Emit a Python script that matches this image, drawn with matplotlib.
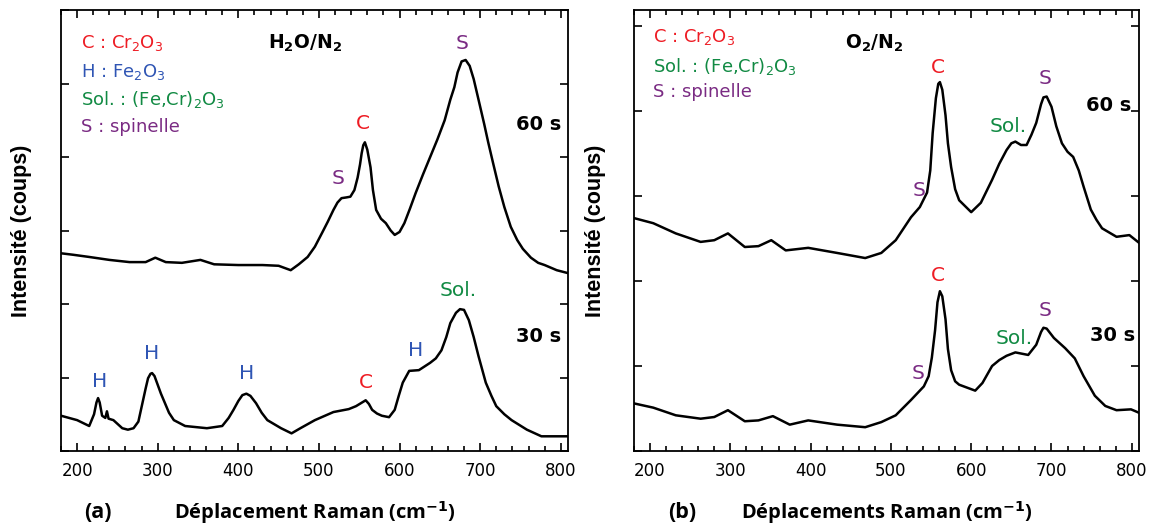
import numpy as np
import matplotlib
matplotlib.use('Agg')
from matplotlib import pyplot as plt
from matplotlib.ticker import MultipleLocator

# spectres (unites arbitraires)
a_x60 = [180, 195, 215, 240, 265, 285, 297, 310, 330, 353, 370, 400, 430, 450, 465, 475, 486, 495, 504,
         511, 518, 523, 528, 534, 539, 544, 548, 551, 553, 555, 557, 560, 564, 567, 571, 577, 583, 589,
         594, 600, 606, 613, 620, 629, 638, 647, 656, 663, 668, 672, 677, 682, 687, 692, 698, 705, 710,
         716, 723, 730, 738, 746, 753, 763, 772, 780, 795, 809]
a_y60 = [2.69, 2.67, 2.64, 2.60, 2.57, 2.57, 2.63, 2.57, 2.56, 2.60, 2.54, 2.53, 2.53, 2.52, 2.46, 2.54,
         2.64, 2.78, 2.97, 3.12, 3.28, 3.38, 3.44, 3.45, 3.46, 3.55, 3.72, 3.90, 4.05, 4.16, 4.20, 4.10,
         3.86, 3.55, 3.28, 3.16, 3.10, 3.00, 2.94, 2.98, 3.10, 3.30, 3.51, 3.76, 4.00, 4.24, 4.50, 4.78,
         4.95, 5.15, 5.30, 5.32, 5.24, 5.06, 4.78, 4.45, 4.20, 3.92, 3.60, 3.32, 3.05, 2.87, 2.75, 2.63,
         2.56, 2.53, 2.46, 2.42]

a_x30 = [180, 200, 215, 221, 224, 226, 228, 231, 235, 237, 239, 245, 256, 263, 270, 276, 281, 285, 288,
         291, 293, 296, 299, 304, 309, 314, 320, 334, 361, 380, 388, 394, 400, 405, 410, 415, 422, 429,
         436, 453, 466, 477, 495, 518, 537, 546, 552, 558, 562, 566, 572, 578, 587, 594, 599, 604, 612,
         624, 638, 645, 652, 658, 663, 670, 675, 680, 686, 692, 698, 707, 714, 720, 730, 739, 758, 776,
         809]
a_y30 = [0.48, 0.42, 0.34, 0.50, 0.66, 0.72, 0.66, 0.48, 0.45, 0.54, 0.44, 0.42, 0.31, 0.29, 0.31, 0.40,
         0.65, 0.85, 0.99, 1.05, 1.06, 1.02, 0.93, 0.78, 0.65, 0.52, 0.42, 0.34, 0.31, 0.34, 0.45, 0.56,
         0.68, 0.76, 0.78, 0.75, 0.65, 0.52, 0.42, 0.31, 0.24, 0.31, 0.42, 0.53, 0.57, 0.61, 0.65, 0.69,
         0.64, 0.56, 0.51, 0.48, 0.46, 0.56, 0.75, 0.93, 1.09, 1.10, 1.20, 1.26, 1.37, 1.55, 1.74, 1.88,
         1.93, 1.92, 1.78, 1.55, 1.29, 0.93, 0.75, 0.61, 0.50, 0.42, 0.29, 0.20, 0.20]

b_x60 = [180, 204, 232, 263, 280, 297, 318, 335, 351, 369, 397, 433, 468, 488, 506, 525, 536, 545, 549,
         552, 556, 559, 561, 564, 568, 571, 575, 580, 585, 600, 612, 626, 635, 644, 650, 655, 662, 669,
         675, 681, 687, 690, 694, 700, 706, 713, 720, 727, 734, 740, 749, 756, 763, 781, 797, 809]
b_y60 = [2.74, 2.68, 2.56, 2.46, 2.48, 2.56, 2.40, 2.41, 2.48, 2.36, 2.39, 2.33, 2.27, 2.33, 2.48, 2.75,
         2.87, 3.04, 3.30, 3.74, 4.15, 4.32, 4.34, 4.25, 3.95, 3.62, 3.34, 3.08, 2.95, 2.81, 2.92, 3.19,
         3.38, 3.54, 3.62, 3.64, 3.60, 3.60, 3.72, 3.86, 4.08, 4.16, 4.17, 4.05, 3.82, 3.62, 3.52, 3.46,
         3.30, 3.11, 2.84, 2.72, 2.62, 2.52, 2.54, 2.45]

b_x30 = [180, 204, 232, 263, 280, 297, 318, 335, 353, 374, 397, 433, 468, 488, 506, 525, 541, 547, 551,
         555, 558, 561, 564, 568, 571, 575, 580, 585, 605, 614, 626, 635, 644, 655, 671, 681, 687, 690,
         694, 703, 717, 729, 740, 754, 767, 781, 799, 809]
b_y30 = [0.56, 0.51, 0.42, 0.38, 0.40, 0.48, 0.35, 0.36, 0.41, 0.31, 0.36, 0.31, 0.28, 0.34, 0.42, 0.60,
         0.76, 0.88, 1.10, 1.42, 1.75, 1.88, 1.82, 1.55, 1.20, 0.95, 0.82, 0.78, 0.71, 0.80, 1.00, 1.07,
         1.12, 1.16, 1.13, 1.25, 1.40, 1.45, 1.44, 1.33, 1.21, 1.09, 0.88, 0.65, 0.53, 0.48, 0.49, 0.45]

red = '#ee1c24'
blue = '#2f55b4'
green = '#118a43'
purple = '#7a2b83'

plt.rcParams['font.family'] = ['DejaVu Sans']

fig = plt.figure(figsize=(11.52, 5.26), dpi=100)
ax1 = fig.add_axes([61/1152, 75/526, 507/1152, 441/526])
ax2 = fig.add_axes([634/1152, 75/526, 505/1152, 441/526])


def style(ax, ytop):
    ax.set_xlim(180, 809)
    ax.set_ylim(0, ytop)
    ax.xaxis.set_major_locator(MultipleLocator(100))
    ax.xaxis.set_minor_locator(MultipleLocator(20))
    ax.yaxis.set_major_locator(MultipleLocator(1))
    ax.tick_params(which='both', direction='in', top=True, right=True, width=1.2)
    ax.tick_params(which='major', length=6)
    ax.tick_params(which='minor', length=3.5)
    ax.tick_params(axis='x', labelsize=12, pad=8, colors='black')
    ax.tick_params(axis='y', labelleft=False)
    for s in ax.spines.values():
        s.set_linewidth(1.3)
    ax.text(-39/ax.get_position().width/1152, 0.5, 'Intensité (coups)', rotation=90,
            family=['Liberation Sans', 'DejaVu Sans'], ha='center', va='center', fontsize=15.5,
            fontweight='bold', transform=ax.transAxes)


style(ax1, 6.0)
style(ax2, 441/85)

ax1.plot(a_x60, a_y60, color='black', lw=1.8)
ax1.plot(a_x30, a_y30, color='black', lw=1.8)
ax2.plot(b_x60, b_y60, color='black', lw=1.8)
ax2.plot(b_x30, b_y30, color='black', lw=1.8)

# panneau (a)
lg = 13
ax1.text(205, 5.55, 'C : Cr$_2$O$_3$', color=red, fontsize=lg, va='center')
ax1.text(205, 5.16, 'H : Fe$_2$O$_3$', color=blue, fontsize=lg, va='center')
ax1.text(205, 4.78, 'Sol. : (Fe,Cr)$_2$O$_3$', color=green, fontsize=lg, va='center')
ax1.text(205, 4.41, 'S : spinelle', color=purple, fontsize=lg, va='center')
ax1.text(483, 5.55, r'$\mathbf{H_2O/N_2}$', fontsize=13.5, ha='center', va='center')
ax1.text(801, 4.44, '60 s', fontsize=14, fontweight='bold', ha='right', va='center')
ax1.text(801, 1.56, '30 s', fontsize=14, fontweight='bold', ha='right', va='center')

pk = 14.5
for x, y, t, c in [(677, 5.55, 'S', purple), (554, 4.46, 'C', red), (524, 3.71, 'S', purple),
                   (673, 2.18, 'Sol.', green), (620, 1.37, 'H', blue), (558, 0.93, 'C', red),
                   (410, 1.06, 'H', blue), (293, 1.32, 'H', blue), (228, 0.95, 'H', blue)]:
    ax1.text(x, y, t, color=c, fontsize=pk, ha='center', va='center')

# panneau (b)
ax2.text(204, 4.87, 'C : Cr$_2$O$_3$', color=red, fontsize=lg, va='center')
ax2.text(204, 4.52, 'Sol. : (Fe,Cr)$_2$O$_3$', color=green, fontsize=lg, va='center')
ax2.text(204, 4.22, 'S : spinelle', color=purple, fontsize=lg, va='center')
ax2.text(479, 4.80, r'$\mathbf{O_2/N_2}$', fontsize=13.5, ha='center', va='center')
ax2.text(799, 4.06, '60 s', fontsize=14, fontweight='bold', ha='right', va='center')
ax2.text(804, 1.36, '30 s', fontsize=14, fontweight='bold', ha='right', va='center')

for x, y, t, c in [(559, 4.51, 'C', red), (692, 4.38, 'S', purple), (646, 3.82, 'Sol.', green),
                   (535, 3.06, 'S', purple), (559, 2.06, 'C', red), (692, 1.65, 'S', purple),
                   (653, 1.32, 'Sol.', green), (534, 0.91, 'S', purple)]:
    ax2.text(x, y, t, color=c, fontsize=pk, ha='center', va='center')

# legendes des axes x
fam = ['Open Sans', 'DejaVu Sans']
fig.text(314.5/1152, 13/526, r'Déplacement Raman (cm$^{\mathbf{-1}}$)', family=fam,
         fontweight='bold', fontsize=14.5, ha='center', va='center')
fig.text(98/1152, 14/526, '(a)', family=fam, fontweight='bold', fontsize=15.5, ha='center', va='center')
fig.text(887/1152, 13/526, r'Déplacements Raman (cm$^{\mathbf{-1}}$)', family=fam,
         fontweight='bold', fontsize=14.5, ha='center', va='center')
fig.text(682/1152, 14/526, '(b)', family=fam, fontweight='bold', fontsize=15.5, ha='center', va='center')

fig.savefig('out.png', dpi=100)
